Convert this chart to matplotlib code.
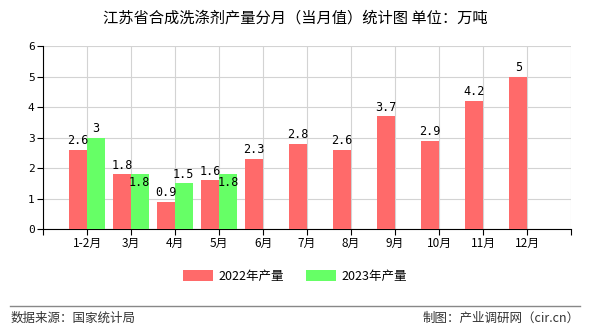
import matplotlib
matplotlib.use("Agg")
import matplotlib.pyplot as plt
import numpy as np

plt.rcParams['font.family'] = ['Noto Sans CJK SC', 'DejaVu Sans']

months = ["1-2月", "3月", "4月", "5月", "6月", "7月", "8月", "9月", "10月", "11月", "12月"]
val_2022 = [2.6, 1.8, 0.9, 1.6, 2.3, 2.8, 2.6, 3.7, 2.9, 4.2, 5]
val_2023 = [3, 1.8, 1.5, 1.8]
inside_2023 = [False, True, False, True]  # labels drawn just inside the bar top

fig = plt.figure(figsize=(5.9, 3.3), dpi=100)
ax = fig.add_axes([0.0729, 0.306, 0.895, 0.5545])

x = np.arange(len(months))
w = 0.4
red = "#FF6A6A"
green = "#66FF66"
b1 = ax.bar(x - w / 2, val_2022, width=w, color=red, label="2022年产量", zorder=3)
b2 = ax.bar(x[:len(val_2023)] + w / 2, val_2023, width=w, color=green, label="2023年产量", zorder=3)

def fmt(v):
    return f"{v:g}"

for xi, v in zip(x, val_2022):
    ax.text(xi - w / 2, v + 0.08, fmt(v), ha="center", va="bottom", fontsize=8.5,
            family="DejaVu Sans Mono", zorder=4)
for xi, v, inside in zip(x, val_2023, inside_2023):
    if inside:
        ax.text(xi + w / 2, v - 0.05, fmt(v), ha="center", va="top", fontsize=8.5,
                family="DejaVu Sans Mono", zorder=4)
    else:
        ax.text(xi + w / 2, v + 0.08, fmt(v), ha="center", va="bottom", fontsize=8.5,
                family="DejaVu Sans Mono", zorder=4)

ax.set_xlim(-1, len(months))
ax.set_ylim(0, 6)
ax.set_yticks(range(0, 7))
ax.set_yticklabels([str(i) for i in range(0, 7)], fontsize=8, family="DejaVu Sans Mono")
ax.set_xticks(np.arange(-1, len(months) + 1))
ax.set_xticklabels([""] + months + [""], fontsize=8.5)
ax.tick_params(axis="x", length=4, width=0.8, pad=2)
ax.tick_params(axis="y", length=4, width=0.8, pad=2)
ax.grid(True, color="#D3D3D3", linewidth=0.8, zorder=0)
for s in ["top", "right"]:
    ax.spines[s].set_visible(False)
ax.spines["left"].set_color("black")
ax.spines["bottom"].set_color("black")

fig.text(0.5, 0.945, "江苏省合成洗涤剂产量分月（当月值）统计图 单位：万吨", ha="center", va="center",
         fontsize=11)

fig.legend(handles=[b1, b2], loc="center", bbox_to_anchor=(0.5, 0.163), ncol=2, frameon=False,
           fontsize=9, handlelength=2.4, handleheight=1.0, columnspacing=1.8, handletextpad=0.4)

fig.add_artist(plt.Line2D([0.017, 0.983], [0.072, 0.072], color="#888888", linewidth=1.0,
                          transform=fig.transFigure))
fig.text(0.017, 0.035, "数据来源：国家统计局", ha="left", va="center", fontsize=9, color="#333333")
fig.text(0.983, 0.035, "制图：产业调研网（cir.cn）", ha="right", va="center", fontsize=9, color="#333333")

fig.savefig("out.png", dpi=100)
